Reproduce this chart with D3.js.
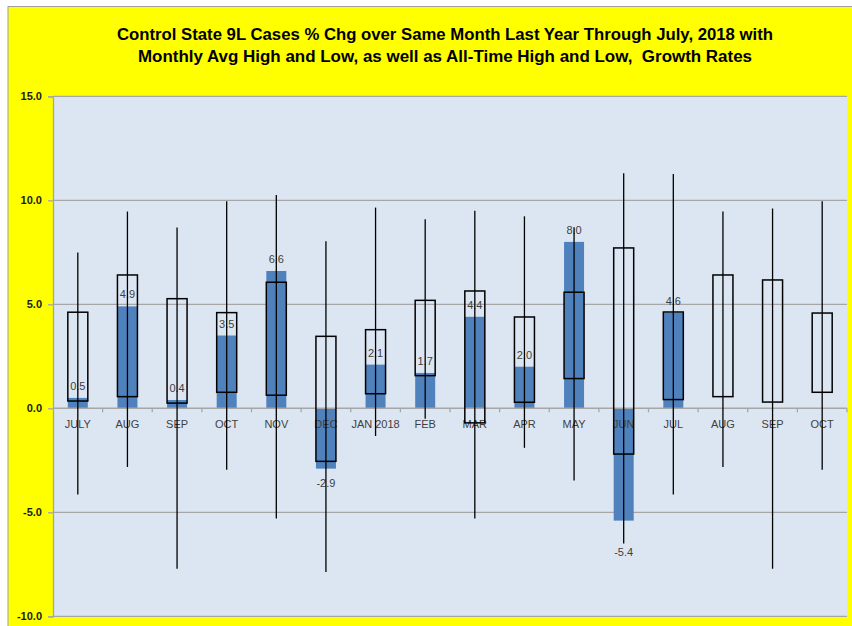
<!DOCTYPE html>
<html>
<head>
<meta charset="utf-8">
<script src="https://cdn.jsdelivr.net/npm/d3@7"></script>
<style>
  body { margin: 0; background: #fff; }
  svg { display: block; }
</style>
</head>
<body>
<svg id="chart"></svg>
<script>
// months shown on the x axis (two years overlap, so the domain uses indexes)
const months = ["JULY", "AUG", "SEP", "OCT", "NOV", "DEC", "JAN 2018", "FEB", "MAR", "APR", "MAY", "JUN", "JUL", "AUG", "SEP", "OCT"];
// actual % chg vs same month last year (blue bars)
const actual = [0.5, 4.9, 0.4, 3.5, 6.6, -2.9, 2.1, 1.7, 4.4, 2.0, 8.0, -5.4, 4.6, null, null, null];
// monthly average high / low (boxes)
const avgHigh = [4.62, 6.41, 5.27, 4.6, 6.06, 3.46, 3.78, 5.19, 5.64, 4.39, 5.58, 7.71, 4.63, 6.41, 6.17, 4.58];
const avgLow = [0.35, 0.56, 0.25, 0.77, 0.63, -2.55, 0.7, 1.57, -0.7, 0.29, 1.43, -2.2, 0.42, 0.56, 0.3, 0.77];
// all-time high / low (whiskers)
const allHigh = [7.49, 9.46, 8.69, 9.95, 10.26, 8.03, 9.65, 9.09, 9.5, 9.23, 8.7, 11.3, 11.27, 9.46, 9.6, 9.95];
const allLow = [-4.15, -2.82, -7.71, -2.95, -5.3, -7.87, -1.33, -0.5, -5.3, -1.9, -3.47, -6.5, -4.14, -2.82, -7.71, -2.95];
const yTicks = [-10, -5, 0, 5, 10, 15];
const titleLines = [
    "Control State 9L Cases % Chg over Same Month Last Year Through July, 2018 with",
    "Monthly Avg High and Low, as well as All-Time High and Low,  Growth Rates"
];

const W = 852, H = 626;
const plot = { left: 53, right: 847, top: 96.3, bottom: 616.3 };
const font = "'Liberation Sans', Arial, sans-serif";
const fmt = v => d3.format(".1f")(v).replace("\u2212", "-");

const svg = d3.select("#chart").attr("width", W).attr("height", H);

// yellow chart area with thin grey frame
svg.append("rect").attr("x", 8).attr("y", 6.5).attr("width", W).attr("height", H)
    .attr("fill", "#ffff00").attr("stroke", "#a0a0a0").attr("stroke-width", 1);

svg.append("rect")
    .attr("x", plot.left).attr("y", plot.top)
    .attr("width", plot.right - plot.left).attr("height", plot.bottom - plot.top)
    .attr("fill", "#dce6f2");

const x = d3.scaleBand().domain(months.map((d, i) => i)).range([plot.left, plot.right]);
const y = d3.scaleLinear().domain([-10, 15]).range([plot.bottom, plot.top]);
const barW = 20;
const cx = i => x(i) + x.bandwidth() / 2;

// gridlines
svg.append("g").selectAll("line").data(yTicks.filter(t => t !== 0)).enter().append("line")
    .attr("x1", plot.left).attr("x2", plot.right)
    .attr("y1", d => y(d)).attr("y2", d => y(d))
    .attr("stroke", "#a6a6a6").attr("stroke-width", 1.3);

// y axis
const yAxis = svg.append("g").attr("transform", `translate(${plot.left},0)`)
    .call(d3.axisLeft(y).tickValues(yTicks).tickFormat(fmt).tickSize(5).tickPadding(6));
yAxis.select(".domain").attr("stroke", "#a6a6a6").attr("stroke-width", 1.3);
yAxis.selectAll(".tick line").attr("stroke", "#a6a6a6").attr("stroke-width", 1.3);
yAxis.selectAll("text").attr("fill", "#1a1a1a").style("font-family", font)
    .style("font-size", "11px").style("font-weight", "bold");

// blue actual bars
const vals = actual.map((v, i) => ({ v, i })).filter(d => d.v !== null);
svg.append("g").selectAll("rect").data(vals).enter().append("rect")
    .attr("x", d => cx(d.i) - barW / 2)
    .attr("width", barW)
    .attr("y", d => y(Math.max(0, d.v)))
    .attr("height", d => Math.abs(y(d.v) - y(0)))
    .attr("fill", "#4f81bd");

// zero axis with ticks between categories
svg.append("line").attr("x1", plot.left).attr("x2", plot.right)
    .attr("y1", y(0)).attr("y2", y(0)).attr("stroke", "#a6a6a6").attr("stroke-width", 1.5);
svg.append("g").selectAll("line").data(months.map((d, i) => i + 1)).enter().append("line")
    .attr("x1", d => plot.left + d * x.step()).attr("x2", d => plot.left + d * x.step())
    .attr("y1", y(0)).attr("y2", y(0) + 4)
    .attr("stroke", "#a6a6a6").attr("stroke-width", 1.3);

// category labels
svg.append("g").selectAll("text").data(months).enter().append("text")
    .attr("x", (d, i) => cx(i)).attr("y", y(0) + 20)
    .attr("text-anchor", "middle")
    .style("font-family", font).style("font-size", "11px").attr("fill", "#404040")
    .text(d => d);

// data labels on the bars
svg.append("g").selectAll("text").data(vals).enter().append("text")
    .attr("x", d => cx(d.i))
    .attr("y", d => d.v >= 0 ? y(d.v) - 8 : y(d.v) + 18 + (d.i === 11 ? 17 : 0))
    .attr("text-anchor", "middle")
    .style("font-family", font).style("font-size", "11px").attr("fill", "#404040")
    .text(d => fmt(d.v));

// avg high/low boxes
svg.append("g").selectAll("rect").data(months).enter().append("rect")
    .attr("x", (d, i) => cx(i) - barW / 2)
    .attr("width", barW)
    .attr("y", (d, i) => y(avgHigh[i]))
    .attr("height", (d, i) => y(avgLow[i]) - y(avgHigh[i]))
    .attr("fill", "none").attr("stroke", "#000").attr("stroke-width", 1.5);

// all-time high/low whiskers
svg.append("g").selectAll("line").data(months).enter().append("line")
    .attr("x1", (d, i) => cx(i)).attr("x2", (d, i) => cx(i))
    .attr("y1", (d, i) => y(allHigh[i])).attr("y2", (d, i) => y(allLow[i]))
    .attr("stroke", "#000").attr("stroke-width", 1.3);

// title
const titleWidths = [656, 614];
svg.append("g").selectAll("text").data(titleLines).enter().append("text")
    .attr("x", 445).attr("y", (d, i) => 39.5 + i * 22.5)
    .attr("text-anchor", "middle")
    .attr("textLength", (d, i) => titleWidths[i]).attr("lengthAdjust", "spacingAndGlyphs")
    .style("white-space", "pre")
    .style("font-family", font).style("font-size", "16px").style("font-weight", "bold")
    .attr("fill", "#000")
    .text(d => d);
</script>
</body>
</html>
